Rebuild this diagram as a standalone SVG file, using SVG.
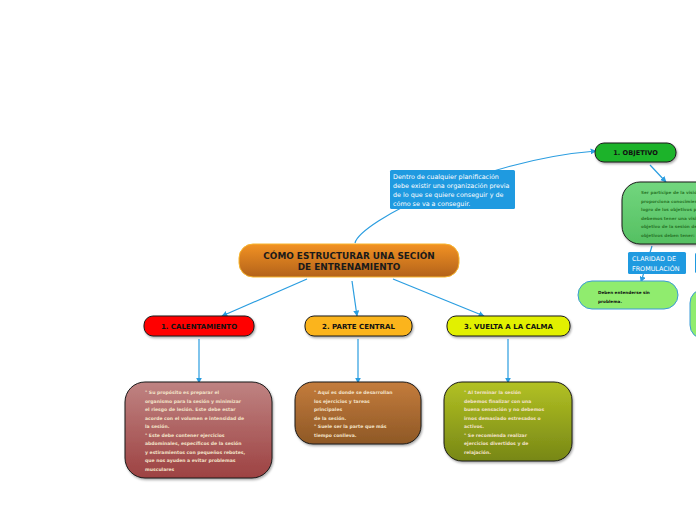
<svg xmlns="http://www.w3.org/2000/svg" width="696" height="520" viewBox="0 0 696 520">
<defs>
<linearGradient id="gMain" x1="0" y1="0" x2="0" y2="1"><stop offset="0" stop-color="#f29223"/><stop offset="1" stop-color="#b3621a"/></linearGradient>
<linearGradient id="gRed" x1="0" y1="0" x2="0" y2="1"><stop offset="0" stop-color="#bf8382"/><stop offset="1" stop-color="#9d4242"/></linearGradient>
<linearGradient id="gBrown" x1="0" y1="0" x2="0" y2="1"><stop offset="0" stop-color="#c47c3c"/><stop offset="1" stop-color="#8e5826"/></linearGradient>
<linearGradient id="gOlive" x1="0" y1="0" x2="0" y2="1"><stop offset="0" stop-color="#b2c123"/><stop offset="1" stop-color="#778716"/></linearGradient>
<linearGradient id="gGreen" x1="0" y1="0" x2="0" y2="1"><stop offset="0" stop-color="#72d67e"/><stop offset="1" stop-color="#55c062"/></linearGradient>
<marker id="arr" viewBox="0 0 10 10" refX="9" refY="5" markerWidth="6" markerHeight="6" orient="auto" markerUnits="userSpaceOnUse"><path d="M0,0 L10,5 L0,10 z" fill="#2a9de0"/></marker>
<filter id="sh" x="-10%" y="-10%" width="130%" height="140%"><feDropShadow dx="1" dy="1.5" stdDeviation="1" flood-color="#000" flood-opacity="0.35"/></filter>
<clipPath id="page"><rect x="0" y="0" width="696" height="520"/></clipPath>
</defs>
<style>
.con{fill:none;stroke:#2a9de0;stroke-width:1.2;marker-end:url(#arr)}
.pill{stroke:#1a1a1a;stroke-width:1;filter:url(#sh)}
.lbl{font-family:"DejaVu Sans",Verdana,sans-serif;font-weight:bold;font-size:7px;fill:#111;text-anchor:middle}
.ttl{font-family:"DejaVu Sans",Verdana,sans-serif;font-weight:bold;font-size:8.9px;fill:#1a1a1a;text-anchor:middle}
.box{stroke:#1a1a1a;stroke-width:1;filter:url(#sh)}
.bt{font-family:"DejaVu Sans",Verdana,sans-serif;font-weight:bold;font-size:4.55px;fill:#f3e2c8}
.blue{fill:#1f9ae0}
.wt{font-family:"DejaVu Sans",Verdana,sans-serif;font-size:6.4px;fill:#fff}
.gt{font-family:"DejaVu Sans",Verdana,sans-serif;font-weight:bold;font-size:4.2px;fill:#2c7a2c}
.kt{font-family:"DejaVu Sans",Verdana,sans-serif;font-weight:bold;font-size:4.2px;fill:#111}
</style>
<rect width="696" height="520" fill="#fff"/>
<g id="connectors">
<path class="con" d="M355,243 C360,222 480,160 596,151"/>
<path class="con" d="M307,279 L222,316"/>
<path class="con" d="M352,281 L357,316"/>
<path class="con" d="M393,279 L484,316"/>
<path class="con" d="M199,339 L199,383"/>
<path class="con" d="M358,339 L358,383"/>
<path class="con" d="M508,339 L508,383"/>
<path class="con" d="M650,165 L666,182"/>
<path class="con" d="M652,246 L641,282"/>
</g>
<g id="note">
<rect class="blue" x="390" y="170" width="125" height="39" rx="1.5"/>
<text class="wt" x="393" y="178.5">Dentro de cualquier planificación</text>
<text class="wt" x="393" y="187.5">debe existir una organización previa</text>
<text class="wt" x="393" y="196.5">de lo que se quiere conseguir y de</text>
<text class="wt" x="393" y="205.5">cómo se va a conseguir.</text>
</g>
<g id="main">
<rect x="239" y="244" width="220" height="33" rx="14" fill="url(#gMain)" stroke="#f7b52e" stroke-width="1"/>
<text class="ttl" x="349" y="258.5">CÓMO ESTRUCTURAR UNA SECIÓN</text>
<text class="ttl" x="349" y="269.5">DE ENTRENAMIENTO</text>
</g>
<g id="calentamiento">
<rect class="pill" x="144" y="316" width="110" height="20" rx="9" fill="#ff0000"/>
<text class="lbl" x="199" y="328.5">1. CALENTAMIENTO</text>
</g>
<g id="parte-central">
<rect class="pill" x="305" y="316" width="107" height="20" rx="9" fill="#fbb41b"/>
<text class="lbl" x="358.5" y="328.5">2. PARTE CENTRAL</text>
</g>
<g id="vuelta-calma">
<rect class="pill" x="447" y="316" width="123" height="20" rx="9" fill="#e2f000"/>
<text class="lbl" x="508.5" y="328.5">3. VUELTA A LA CALMA</text>
</g>
<g id="calentamiento-detalle">
<rect class="box" x="125" y="382" width="147" height="96" rx="20" fill="url(#gRed)"/>
<text class="bt" x="145" y="394">° Su propósito es preparar el</text>
<text class="bt" x="145" y="402.5">organismo para la sesión y minimizar</text>
<text class="bt" x="145" y="411">el riesgo de lesión. Este debe estar</text>
<text class="bt" x="145" y="419.5">acorde con el volumen e intensidad de</text>
<text class="bt" x="145" y="428">la sesión.</text>
<text class="bt" x="145" y="436.5">° Este debe contener ejercicios</text>
<text class="bt" x="145" y="445">abdominales, específicos de la sesión</text>
<text class="bt" x="145" y="453.5">y estiramientos con pequeños rebotes,</text>
<text class="bt" x="145" y="462">que nos ayuden a evitar problemas</text>
<text class="bt" x="145" y="470.5">musculares</text>
</g>
<g id="parte-central-detalle">
<rect class="box" x="295" y="382" width="126" height="62" rx="18" fill="url(#gBrown)"/>
<text class="bt" x="314" y="394">° Aquí es donde se desarrollan</text>
<text class="bt" x="314" y="402.5">los ejercicios y tareas</text>
<text class="bt" x="314" y="411">principales</text>
<text class="bt" x="314" y="419.5">de la sesión.</text>
<text class="bt" x="314" y="428">° Suele ser la parte que más</text>
<text class="bt" x="314" y="436.5">tiempo conlleva.</text>
</g>
<g id="vuelta-calma-detalle">
<rect class="box" x="444" y="382" width="128" height="79" rx="18" fill="url(#gOlive)"/>
<text class="bt" x="464" y="394">° Al terminar la sesión</text>
<text class="bt" x="464" y="402.5">debemos finalizar con una</text>
<text class="bt" x="464" y="411">buena sensación y no debemos</text>
<text class="bt" x="464" y="419.5">irnos demasiado estresados o</text>
<text class="bt" x="464" y="428">activos.</text>
<text class="bt" x="464" y="436.5">° Se recomienda realizar</text>
<text class="bt" x="464" y="445">ejercicios divertidos y de</text>
<text class="bt" x="464" y="453.5">relajación.</text>
</g>
<g id="objetivo">
<rect class="pill" x="595" y="143" width="81" height="19" rx="9" fill="#1db32a"/>
<text class="lbl" x="635.5" y="155" style="font-size:6.6px">1. OBJETIVO</text>
</g>
<g id="objetivo-detalle" clip-path="url(#page)">
<rect class="box" x="622" y="182" width="100" height="62" rx="18" fill="url(#gGreen)"/>
<text class="gt" x="641" y="194">Ser partícipe de la visión</text>
<text class="gt" x="641" y="202.5">proporciona conocimiento</text>
<text class="gt" x="641" y="211">logro de los objetivos pr</text>
<text class="gt" x="641" y="219.5">debemos tener una visión</text>
<text class="gt" x="641" y="228">objetivo de la sesión de</text>
<text class="gt" x="641" y="236.5">objetivos deben tener:</text>
</g>
<g id="claridad">
<rect class="blue" x="628" y="252" width="58" height="22" rx="1.5"/>
<text class="wt" x="632" y="261">CLARIDAD DE</text>
<text class="wt" x="632" y="270.5">FROMULACIÓN</text>
</g>
<g id="claridad-detalle">
<rect x="578" y="281" width="100" height="28" rx="14" fill="#90ec6e" stroke="#3a9ad9" stroke-width="1"/>
<text class="kt" x="598" y="294">Deben entenderse sin</text>
<text class="kt" x="598" y="302.5">problema.</text>
</g>
<g id="label-right">
<rect class="blue" x="695" y="253" width="30" height="20" rx="1.5"/>
</g>
<g id="box-right">
<rect x="690" y="289" width="40" height="50" rx="14" fill="#90ec6e" stroke="#3a9ad9" stroke-width="1"/>
</g>
</svg>
